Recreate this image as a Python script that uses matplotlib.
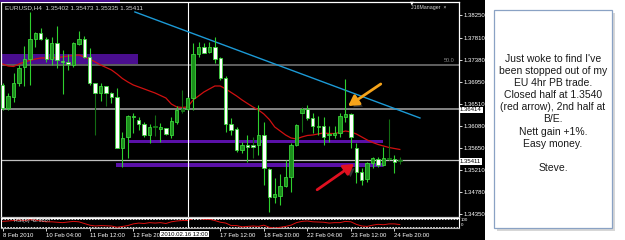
import matplotlib
matplotlib.use("Agg")
import matplotlib.pyplot as plt
from matplotlib.patches import Rectangle
import matplotlib.patheffects as pe
import numpy as np

# ---------------- data ----------------
opens = [1.36884, 1.36433, 1.36649, 1.36923, 1.37237, 1.37393, 1.37785, 1.37903, 1.37785, 1.37393,
         1.37707, 1.37354, 1.37335, 1.37276, 1.37687, 1.37785, 1.37433, 1.36923, 1.36727, 1.36864,
         1.36727, 1.36649, 1.35649, 1.35865, 1.36257, 1.36198, 1.36119, 1.35904, 1.36061, 1.36021,
         1.36041, 1.35904, 1.36159, 1.36374, 1.36413, 1.36629, 1.37491, 1.37629, 1.37531, 1.37629,
         1.37413, 1.37021, 1.36119, 1.36021, 1.35610, 1.35708, 1.35708, 1.35708, 1.35904, 1.35237,
         1.34689, 1.34708, 1.34904, 1.35081, 1.35708, 1.36335, 1.36413, 1.36237, 1.36061, 1.36080,
         1.35904, 1.35904, 1.35943, 1.36257, 1.36315, 1.35649, 1.35179, 1.35041, 1.35355, 1.35433,
         1.35316, 1.35433, 1.35433, 1.35402]
highs = [1.36923, 1.36727, 1.37119, 1.37276, 1.37648, 1.38315, 1.37923, 1.38001, 1.37825, 1.37825,
         1.38040, 1.37570, 1.37491, 1.37727, 1.37942, 1.37844, 1.37609, 1.36923, 1.36923, 1.36864,
         1.36747, 1.36825, 1.35963, 1.36296, 1.36335, 1.36257, 1.36159, 1.36119, 1.36296, 1.36139,
         1.36041, 1.36257, 1.36472, 1.36786, 1.36649, 1.37707, 1.37727, 1.37707, 1.37727, 1.37825,
         1.37433, 1.37060, 1.36237, 1.36061, 1.35767, 1.35904, 1.35865, 1.36492, 1.36159, 1.35257,
         1.35061, 1.35139, 1.35414, 1.35747, 1.36119, 1.36453, 1.36492, 1.36335, 1.36276, 1.36257,
         1.36080, 1.36080, 1.36335, 1.37001, 1.36335, 1.35747, 1.35257, 1.35375, 1.35473, 1.35473,
         1.35669, 1.36217, 1.35512, 1.35473]
lows = [1.36394, 1.36394, 1.36551, 1.36864, 1.36864, 1.36884, 1.37629, 1.37766, 1.37335, 1.37276,
        1.37217, 1.36707, 1.37178, 1.37237, 1.37668, 1.37413, 1.36884, 1.35904, 1.36570, 1.36472,
        1.36531, 1.35649, 1.35277, 1.35453, 1.35943, 1.36002, 1.35865, 1.35747, 1.35884, 1.35767,
        1.35904, 1.35845, 1.36119, 1.36335, 1.36394, 1.36394, 1.37433, 1.37511, 1.37511, 1.37315,
        1.36982, 1.35963, 1.35904, 1.35571, 1.35551, 1.35375, 1.35453, 1.35512, 1.34924, 1.34395,
        1.34571, 1.34532, 1.34885, 1.34787, 1.35688, 1.35963, 1.36198, 1.35943, 1.35904, 1.35708,
        1.35767, 1.35845, 1.35865, 1.36159, 1.35649, 1.34963, 1.34924, 1.34983, 1.35257, 1.35277,
        1.35296, 1.35414, 1.35159, 1.35335]
closes = [1.36433, 1.36668, 1.36923, 1.37217, 1.37393, 1.37785, 1.37903, 1.37785, 1.37393, 1.37707,
          1.37374, 1.37335, 1.37295, 1.37707, 1.37785, 1.37433, 1.36923, 1.36727, 1.36864, 1.36727,
          1.36649, 1.35649, 1.35845, 1.36276, 1.36276, 1.36119, 1.35904, 1.36061, 1.36080, 1.36061,
          1.35923, 1.36178, 1.36394, 1.36413, 1.36629, 1.37491, 1.37629, 1.37511, 1.37629, 1.37393,
          1.37021, 1.36119, 1.36002, 1.35610, 1.35708, 1.35669, 1.35669, 1.35904, 1.35257, 1.34689,
          1.34747, 1.34904, 1.35081, 1.35708, 1.36100, 1.36413, 1.36237, 1.36080, 1.36080, 1.35865,
          1.35923, 1.35943, 1.36276, 1.36315, 1.35865, 1.35179, 1.35022, 1.35355, 1.35453, 1.35316,
          1.35453, 1.35453, 1.35375, 1.35411]
ma_values = [1.37295, 1.37256, 1.37246, 1.37295, 1.37335, 1.37364, 1.37393, 1.37413, 1.37413, 1.37413,
             1.37423, 1.37433, 1.37452, 1.37462, 1.37472, 1.37433, 1.37393, 1.37335, 1.37276, 1.37227,
             1.37178, 1.37100, 1.37011, 1.36943, 1.36884, 1.36845, 1.36806, 1.36766, 1.36727, 1.36678,
             1.36629, 1.36511, 1.36453, 1.36443, 1.36453, 1.36590, 1.36668, 1.36747, 1.36806, 1.36864,
             1.36864, 1.36806, 1.36737, 1.36668, 1.36590, 1.36521, 1.36453, 1.36394, 1.36316, 1.36208,
             1.36061, 1.35982, 1.35904, 1.35845, 1.35826, 1.35865, 1.35894, 1.35904, 1.35924, 1.35943,
             1.35933, 1.35933, 1.35953, 1.35982, 1.35963, 1.35924, 1.35865, 1.35806, 1.35757, 1.35718,
             1.35688, 1.35659, 1.35639, 1.35620]
rsi_values = [58, 60, 62, 64, 62, 66, 64, 60, 56, 56, 54, 52, 55, 58, 56, 48, 40, 36, 38, 37,
              36, 30, 34, 38, 46, 50, 48, 52, 50, 52, 48, 56, 60, 62, 62, 72, 72, 68, 68, 62,
              54, 50, 38, 38, 32, 34, 36, 34, 40, 30, 26, 30, 34, 40, 52, 58, 60, 56, 55, 54,
              50, 52, 52, 58, 56, 44, 36, 34, 40, 44, 42, 46, 46, 43]
price_ticks = [1.38250, 1.37810, 1.37380, 1.36950, 1.36510, 1.36080, 1.35650, 1.35210, 1.34780, 1.34350]
date_ticks = [0, 8, 16, 24, 40, 48, 56, 64, 72]
date_labels = ["8 Feb 2010", "10 Feb 04:00", "11 Feb 12:00", "12 Feb 20:00", "17 Feb 12:00",
               "18 Feb 20:00", "22 Feb 04:00", "23 Feb 12:00", "24 Feb 20:00"]
cursor_bar = 34
cursor_label = "2010.02.16 12:00"
fib_level = 1.37276
line_level = 1.36414
last_price = 1.35411
trend_x = [24.3, 76.7]
trend_y = [1.38315, 1.36237]
header = "EURUSD,H4  1.35402 1.35473 1.35335 1.35411"
note_lines = ["Just woke to find I've", "been stopped out of my", "EU 4hr PB trade.",
              "Closed half at 1.3540", "(red arrow), 2nd half at", "B/E.", "Nett gain +1%.",
              "Easy money.", "", "Steve."]

DIM_WICK = [17, 19, 46, 55]
DIM_ALL = [28, 33, 71, 73]

# ---------------- figure ----------------
W, H = 625, 240
fig = plt.figure(figsize=(6.25, 2.4), dpi=100)
fig.patch.set_facecolor("white")
FONT = "Liberation Sans"


def px(x0, y0, x1, y1):
    return [x0 / W, 1 - y1 / H, (x1 - x0) / W, (y1 - y0) / H]


bg = fig.add_axes(px(0, 0, 485, 240))
bg.set_facecolor("black")
bg.set_xticks([]); bg.set_yticks([])
for s in bg.spines.values():
    s.set_visible(False)

# thin purple strip at very top-left
fig.patches.append(Rectangle((0, 1 - 1.6 / H), 120 / W, 1.6 / H, transform=fig.transFigure,
                             facecolor="#4a0e8f", edgecolor="none", zorder=5))

ax = fig.add_axes(px(1, 1.5, 459, 216.5))
ax.set_facecolor("black")
XL = (-0.3125, 83.88)
ax.set_xlim(*XL)
ax.set_ylim(1.34306, 1.38520)
for k in ["top", "left", "right"]:
    ax.spines[k].set_color("white"); ax.spines[k].set_linewidth(0.9)
ax.spines["bottom"].set_color("#c8c8c8"); ax.spines["bottom"].set_linewidth(0.9)
ax.set_xticks([])
ax.yaxis.tick_right()
ax.set_yticks(price_ticks)
ax.set_yticklabels([f"{v:.5f}" for v in price_ticks])
ax.tick_params(axis="y", direction="out", length=2, width=0.6, color="white",
               labelcolor="white", labelsize=4.3, pad=1)
for t in ax.get_yticklabels():
    t.set_fontfamily(FONT)

# purple zones
ax.add_patch(Rectangle((XL[0], 1.37290), 24.87 - XL[0], 1.37486 - 1.37290,
                       facecolor="#4a0e8f", edgecolor="none", zorder=1))
ax.add_patch(Rectangle((23.0, 1.35737), 69.9 - 23.0, 1.35796 - 1.35737,
                       facecolor="#5a10a8", edgecolor="none", zorder=1))
ax.add_patch(Rectangle((20.8, 1.35277), 69.9 - 20.8, 1.35355 - 1.35277,
                       facecolor="#5a10a8", edgecolor="none", zorder=1))

# horizontal lines
ax.axhline(fib_level, color="#7a7a7a", lw=1.1, zorder=1.5)
ax.axhline(line_level, color="#a8a8a8", lw=1.1, zorder=1.5)
ax.axhline(last_price, color="#c0c0c0", lw=0.9, zorder=1.5)
ax.axvline(cursor_bar, color="white", lw=0.8, zorder=1.6)

# trend line
ax.plot(trend_x, trend_y, color="#1c9ad6", lw=1.0, zorder=2)

# moving average
x = np.arange(len(opens))
ax.plot(x, ma_values, color="#d01010", lw=0.9, zorder=2.5)

# candles
o = np.array(opens); c = np.array(closes); hi = np.array(highs); lo = np.array(lows)
wick_cols = []
face_cols = []
edge_cols = []
for i in range(len(o)):
    up = c[i] >= o[i]
    if i in DIM_ALL:
        wick_cols.append("#136b13"); face_cols.append("#136b13"); edge_cols.append("#168016")
    else:
        wick_cols.append("#136b13" if i in DIM_WICK else "#2ed02e")
        face_cols.append("#1c8f1c" if up else "white")
        edge_cols.append("#3ad43a")
ax.vlines(x, lo, hi, colors=wick_cols, lw=0.8, zorder=3)
body_bottom = np.minimum(o, c)
body_h = np.maximum(np.abs(c - o), 0.00008)
ax.bar(x, body_h, bottom=body_bottom, width=0.62, color=face_cols,
       edgecolor=edge_cols, linewidth=0.6, zorder=4)

# arrows
shadow = [pe.SimplePatchShadow(offset=(2, -2), shadow_rgbFace="#555555", alpha=0.6), pe.Normal()]
ax.annotate("", xy=(63.5, 1.36472), xytext=(69.5, 1.36903),
            arrowprops=dict(arrowstyle="-|>,head_length=0.6,head_width=0.35", color="#f5a31a",
                            lw=2.0, shrinkA=0, shrinkB=0, path_effects=shadow), zorder=6)
ax.annotate("", xy=(64.6, 1.35336), xytext=(57.8, 1.34830),
            arrowprops=dict(arrowstyle="-|>,head_length=0.6,head_width=0.35", color="#e01020",
                            lw=2.0, shrinkA=0, shrinkB=0, path_effects=shadow), zorder=6)

# price boxes on axis
for val, ypx in [(line_level, 110), (last_price, 161.7)]:
    fig.text(460 / W, 1 - ypx / H, f"{val:.5f}", fontsize=4.3, family=FONT, color="black",
             ha="left", va="center",
             bbox=dict(boxstyle="square,pad=0.15", facecolor="white", edgecolor="none"))

# texts on chart
fig.text(5 / W, 1 - 7.5 / H, header, fontsize=4.6, family=FONT, color="#d8d8d8", ha="left", va="center")
fig.text(411 / W, 1 - 8 / H, "J16Manager  \u00d7", fontsize=3.8, family=FONT, color="#d8d8d8",
         ha="left", va="center")
fig.text(455 / W, 1 - 61 / H, "50.0", fontsize=4.0, family=FONT, color="#8a8a8a", ha="right", va="center")
fig.text(412 / W, 1 - 2.5 / H, "\u25bc", fontsize=3.5, color="white", ha="center", va="center")

# RSI panel
rax = fig.add_axes(px(1, 217.5, 459, 228))
rax.set_facecolor("black")
rax.set_xlim(*XL)
rax.set_ylim(26.5, 76.5)
for k in ["top", "left", "right"]:
    rax.spines[k].set_color("white"); rax.spines[k].set_linewidth(0.8)
rax.spines["bottom"].set_color("#b0b0b0"); rax.spines["bottom"].set_linewidth(0.8)
rax.axhline(70, color="white", lw=0.6, ls=(0, (2, 1.5)))
rax.axhline(30, color="white", lw=0.6, ls=(0, (2, 1.5)))
rax.plot(x, rsi_values, color="#e01010", lw=0.7)
rax.axvline(cursor_bar, color="white", lw=0.8)
rax.set_yticks([])
rax.set_xticks(date_ticks)
rax.set_xticklabels(date_labels)
rax.tick_params(axis="x", direction="out", length=2, width=0.6, color="white",
                labelcolor="white", labelsize=4.3, pad=1.5)
for t in rax.get_xticklabels():
    t.set_fontfamily(FONT); t.set_ha("left")
rax.text(2, 60, "RSI(6) 42.9807", fontsize=3.9, family=FONT, color="#d0d0d0", ha="left", va="center",
         zorder=5)
fig.text(461 / W, 1 - 220 / H, "100", fontsize=3.2, family=FONT, color="white", ha="left", va="center")
fig.text(461 / W, 1 - 225.5 / H, "0", fontsize=3.2, family=FONT, color="white", ha="left", va="center")
fig.text(161 / W, 1 - 234 / H, cursor_label, fontsize=4.3, family=FONT, color="black", ha="left",
         va="center", bbox=dict(boxstyle="square,pad=0.15", facecolor="white", edgecolor="none"))

# note box
fig.patches.append(Rectangle((497 / W, 1 - 231 / H), 118 / W, 218 / H, transform=fig.transFigure,
                             facecolor="#bdbdbd", edgecolor="none", alpha=0.6, zorder=1))
fig.patches.append(Rectangle((494 / W, 1 - 228 / H), 118 / W, 218 / H, transform=fig.transFigure,
                             facecolor="white", edgecolor="#8aa2c4", lw=0.9, zorder=2))
for k, line in enumerate(note_lines):
    fig.text(553 / W, 1 - (58.5 + 12.2 * k) / H, line, fontsize=7.5, family=FONT, color="#1a1a1a",
             ha="center", va="center", zorder=3)

fig.savefig("out.png", dpi=100, facecolor=fig.get_facecolor())
